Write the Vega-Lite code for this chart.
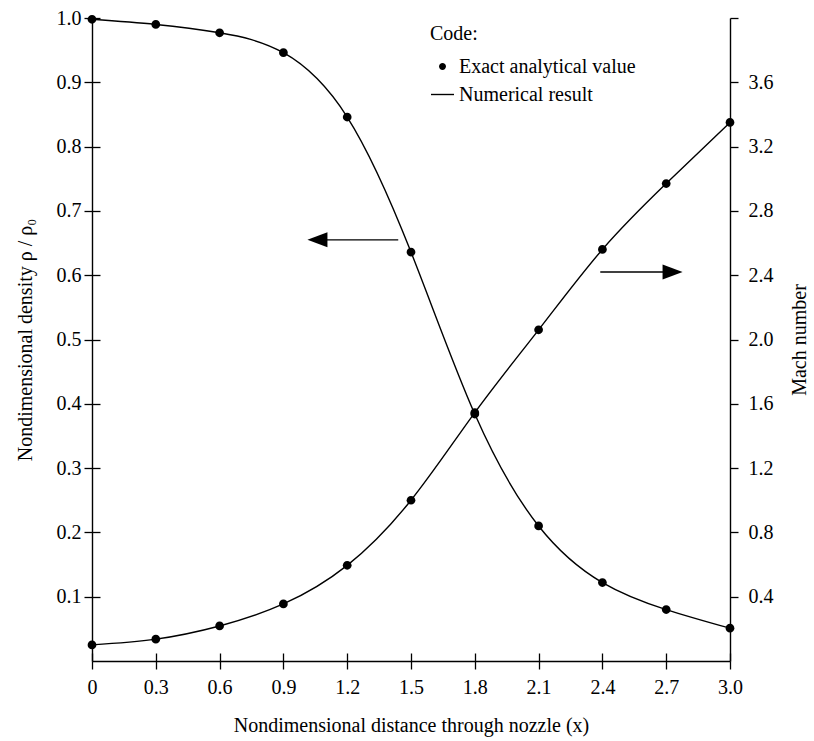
{
  "$schema": "https://vega.github.io/schema/vega-lite/v6.json",
  "width": 638,
  "height": 643,
  "autosize": {"type": "none"},
  "padding": {"left": 92, "top": 18, "right": 84, "bottom": 80},
  "background": "white",
  "config": {
    "view": {"stroke": null},
    "font": "Liberation Serif",
    "axis": {
      "domainColor": "black", "domainWidth": 1.4,
      "tickColor": "black", "tickWidth": 1.3, "tickSize": 8,
      "labelColor": "black", "labelFont": "Liberation Serif", "labelFontSize": 20,
      "titleFont": "Liberation Serif", "titleFontSize": 20, "titleFontWeight": "normal", "titleColor": "black",
      "grid": true, "gridColor": "black", "gridOpacity": 1, "gridWidth": 1.3, "gridDash": [8, 4000],
      "labelFlush": false, "labelOverlap": false
    },
    "legend": {
      "labelFont": "Liberation Serif", "titleFont": "Liberation Serif",
      "labelColor": "black", "titleColor": "black"
    }
  },
  "datasets": {
    "nozzle": [
      {"x": 0.0, "density": 0.998, "mach": 0.100},
      {"x": 0.3, "density": 0.990, "mach": 0.136},
      {"x": 0.6, "density": 0.977, "mach": 0.218},
      {"x": 0.9, "density": 0.946, "mach": 0.355},
      {"x": 1.2, "density": 0.846, "mach": 0.595},
      {"x": 1.5, "density": 0.636, "mach": 1.000},
      {"x": 1.8, "density": 0.384, "mach": 1.545},
      {"x": 2.1, "density": 0.210, "mach": 2.060},
      {"x": 2.4, "density": 0.122, "mach": 2.560},
      {"x": 2.7, "density": 0.080, "mach": 2.970},
      {"x": 3.0, "density": 0.051, "mach": 3.350}
    ],
    "leftArrow": [{"x": 1.06, "x2": 1.44, "density": 0.655}],
    "rightArrow": [{"x": 2.73, "x2": 2.39, "mach": 2.42}]
  },
  "layer": [
    {
      "layer": [
        {
          "data": {"name": "nozzle"},
          "mark": {"type": "line", "interpolate": "natural", "color": "black", "strokeWidth": 1.4},
          "encoding": {
            "x": {
              "field": "x", "type": "quantitative", "scale": {"domain": [0, 3]},
              "axis": {
                "orient": "bottom",
                "values": [0, 0.3, 0.6, 0.9, 1.2, 1.5, 1.8, 2.1, 2.4, 2.7, 3.0],
                "labelExpr": "datum.value == 0 ? '0' : format(datum.value, '.1f')",
                "labelPadding": 8,
                "gridDashOffset": 3373,
                "title": "Nondimensional distance through nozzle (x)",
                "titlePadding": 18
              }
            },
            "y": {
              "field": "density", "type": "quantitative", "scale": {"domain": [0, 1]},
              "axis": {
                "orient": "left",
                "values": [0.1, 0.2, 0.3, 0.4, 0.5, 0.6, 0.7, 0.8, 0.9, 1.0],
                "format": ".1f",
                "labelPadding": 3,
                "title": "Nondimensional density ρ / ρ₀",
                "titlePadding": 21
              }
            }
          }
        },
        {
          "data": {"name": "nozzle"},
          "mark": {"type": "point", "filled": true, "color": "black", "opacity": 1, "size": 850},
          "encoding": {
            "x": {"field": "x", "type": "quantitative", "scale": {"domain": [0, 3]}},
            "y": {"field": "density", "type": "quantitative", "scale": {"domain": [0, 1]}},
            "shape": {
              "datum": "Exact analytical value",
              "scale": {
                "domain": ["Exact analytical value", "Numerical result"],
                "range": ["M0,-0.3A0.3,0.3,0,1,1,0,0.3A0.3,0.3,0,1,1,0,-0.3Z", "M-1,-0.06L1,-0.06L1,0.06L-1,0.06Z"]
              },
              "legend": {
                "title": "Code:",
                "orient": "none",
                "legendX": 338,
                "legendY": 6,
                "padding": 0,
                "symbolSize": 529,
                "symbolFillColor": "black",
                "symbolOpacity": 1,
                "labelFontSize": 20,
                "labelLimit": 400,
                "titleFontSize": 20,
                "titleFontWeight": "normal",
                "labelOffset": 4,
                "rowPadding": 5,
                "titlePadding": 10
              }
            }
          }
        },
        {
          "data": {"name": "leftArrow"},
          "mark": {"type": "rule", "color": "black", "strokeWidth": 1.4},
          "encoding": {
            "x": {"field": "x", "type": "quantitative", "scale": {"domain": [0, 3]}},
            "x2": {"field": "x2"},
            "y": {"field": "density", "type": "quantitative", "scale": {"domain": [0, 1]}}
          }
        },
        {
          "data": {"name": "leftArrow"},
          "mark": {"type": "point", "shape": "M-1,0L1,-0.75L1,0.75Z", "filled": true, "color": "black", "opacity": 1, "size": 400},
          "encoding": {
            "x": {"field": "x", "type": "quantitative", "scale": {"domain": [0, 3]}},
            "y": {"field": "density", "type": "quantitative", "scale": {"domain": [0, 1]}}
          }
        }
      ]
    },
    {
      "layer": [
        {
          "data": {"name": "nozzle"},
          "mark": {"type": "line", "interpolate": "natural", "color": "black", "strokeWidth": 1.4},
          "encoding": {
            "x": {"field": "x", "type": "quantitative", "scale": {"domain": [0, 3]}},
            "y": {
              "field": "mach", "type": "quantitative", "scale": {"domain": [0, 4]},
              "axis": {
                "orient": "right",
                "values": [0.4, 0.8, 1.2, 1.6, 2.0, 2.4, 2.8, 3.2, 3.6, 4.0],
                "labelExpr": "datum.value > 3.9 ? '' : format(datum.value, '.1f')",
                "labelPadding": 10,
                "title": "Mach number",
                "titleAngle": 270,
                "titleBaseline": "top",
                "titlePadding": 16
              }
            }
          }
        },
        {
          "data": {"name": "nozzle"},
          "mark": {"type": "point", "filled": true, "color": "black", "opacity": 1, "size": 850},
          "encoding": {
            "x": {"field": "x", "type": "quantitative", "scale": {"domain": [0, 3]}},
            "y": {"field": "mach", "type": "quantitative", "scale": {"domain": [0, 4]}},
            "shape": {
              "datum": "Exact analytical value",
              "scale": {
                "domain": ["Exact analytical value", "Numerical result"],
                "range": ["M0,-0.3A0.3,0.3,0,1,1,0,0.3A0.3,0.3,0,1,1,0,-0.3Z", "M-1,-0.06L1,-0.06L1,0.06L-1,0.06Z"]
              }
            }
          }
        },
        {
          "data": {"name": "rightArrow"},
          "mark": {"type": "rule", "color": "black", "strokeWidth": 1.4},
          "encoding": {
            "x": {"field": "x", "type": "quantitative", "scale": {"domain": [0, 3]}},
            "x2": {"field": "x2"},
            "y": {"field": "mach", "type": "quantitative", "scale": {"domain": [0, 4]}}
          }
        },
        {
          "data": {"name": "rightArrow"},
          "mark": {"type": "point", "shape": "M1,0L-1,-0.75L-1,0.75Z", "filled": true, "color": "black", "opacity": 1, "size": 400},
          "encoding": {
            "x": {"field": "x", "type": "quantitative", "scale": {"domain": [0, 3]}},
            "y": {"field": "mach", "type": "quantitative", "scale": {"domain": [0, 4]}}
          }
        }
      ]
    }
  ],
  "resolve": {"scale": {"y": "independent"}}
}
